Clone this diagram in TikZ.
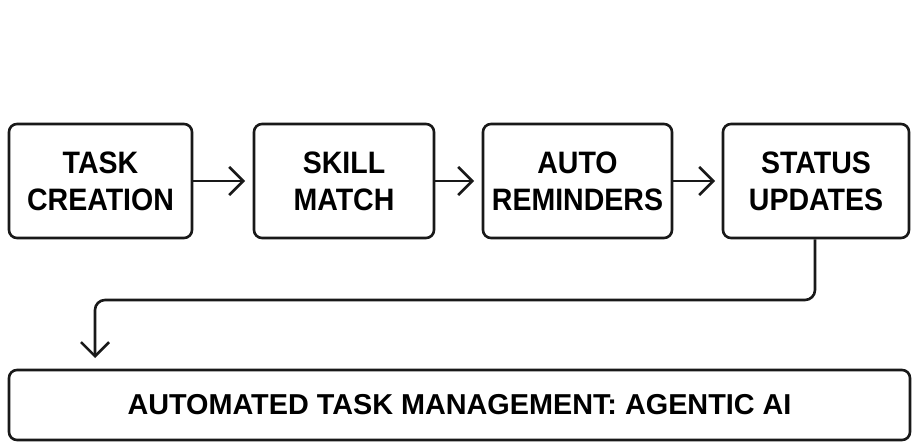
\documentclass[tikz,border=0pt]{standalone}
\usepackage{fontspec}
\setmainfont{Liberation Sans}
\newfontfamily\boxfont[FakeStretch=0.92]{Liberation Sans}
\usetikzlibrary{arrows.meta}
\tikzset{
  stepbox/.style={draw=black!90, line width=2.6pt, rounded corners=8pt, rectangle,
    minimum height=114pt, inner sep=0pt, align=center,
    font=\boxfont\fontsize{31}{37}\selectfont\bfseries},
  wide/.style={draw=black!90, line width=2.6pt, rounded corners=8pt, rectangle,
    minimum width=901pt, minimum height=70pt, inner sep=0pt,
    font=\fontsize{28.8}{34}\selectfont\bfseries},
  flow/.style={draw=black!90, line width=2.6pt, -{Straight Barb[length=14pt,width=28pt]}}
}
\begin{document}
\begin{tikzpicture}[x=1pt,y=-1pt]
\useasboundingbox[fill=white] (0,0) rectangle (918,446);
\node[stepbox, minimum width=183pt] (t1) at (100.5,181) {TASK\\CREATION};
\node[stepbox, minimum width=180pt] (t2) at (344,181) {SKILL\\MATCH};
\node[stepbox, minimum width=189pt] (t3) at (577.5,181) {AUTO\\REMINDERS};
\node[stepbox, minimum width=186pt] (t4) at (816,181) {STATUS\\UPDATES};
\node[wide] (b) at (459.5,405) {AUTOMATED TASK MANAGEMENT: AGENTIC AI};
\coordinate (e1) at (245,181);
\coordinate (e2) at (474,181);
\coordinate (e3) at (715,181);
\coordinate (c1) at (815,300);
\coordinate (c2) at (95,300);
\coordinate (e4) at (95,358);
\draw[flow] (t1.east) -- (e1);
\draw[flow] (t2.east) -- (e2);
\draw[flow] (t3.east) -- (e3);
\draw[flow, rounded corners=10pt] (t4.south -| c1) -- (c1) -- (c2) -- (e4);
\end{tikzpicture}
\end{document}
